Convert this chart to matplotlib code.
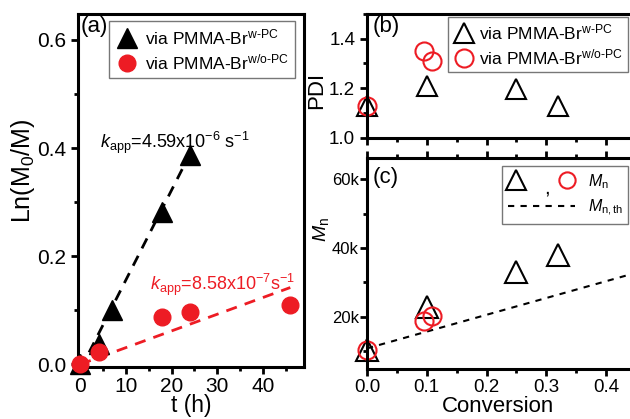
import numpy as np
import matplotlib
matplotlib.use("Agg")
import matplotlib.pyplot as plt
from matplotlib.lines import Line2D
from matplotlib.legend_handler import HandlerTuple
from matplotlib.ticker import MultipleLocator, FuncFormatter

plt.rcParams["font.family"] = ["Liberation Sans", "DejaVu Sans"]
plt.rcParams["mathtext.fontset"] = "custom"
plt.rcParams["mathtext.rm"] = "Liberation Sans"
plt.rcParams["mathtext.it"] = "Liberation Sans:italic"

RED = "#ED1C24"

# ---- (a) kinetics ----
t_w = [0, 4, 7, 18, 24]
lnm_w = [0.0, 0.037, 0.100, 0.281, 0.388]
t_wo = [0, 4, 18, 24, 46]
lnm_wo = [0.0, 0.022, 0.088, 0.096, 0.109]
fit_w_t = [0, 24.5]
fit_w_y = [-0.01, 0.397]
fit_wo_t = [0, 46]
fit_wo_y = [0.0, 0.142]

# ---- (b) PDI ----
conv_w = [0.0, 0.10, 0.25, 0.32]
pdi_w = [1.13, 1.208, 1.198, 1.127]
conv_wo = [0.0, 0.096, 0.108]
pdi_wo = [1.128, 1.349, 1.308]

# ---- (c) Mn ----
mn_w = [10300, 22900, 33100, 38000]
mn_wo = [10300, 18700, 20300]
th_conv = [0.0, 0.44]
th_mn = [10800, 32300]

fig = plt.figure(figsize=(6.3, 4.19), dpi=100)
ax_a = fig.add_axes([0.1238, 0.1241, 0.3587, 0.8425])
ax_b = fig.add_axes([0.5825, 0.6714, 0.4175, 0.2952])
ax_c = fig.add_axes([0.5825, 0.1193, 0.4175, 0.5029])

for ax in (ax_a, ax_b, ax_c):
    for s in ax.spines.values():
        s.set_linewidth(2.2)
    ax.tick_params(which="major", direction="out", length=5, width=2)
    ax.tick_params(which="minor", direction="out", length=3, width=2)

# ============================================================
# PANEL (a)
# ============================================================
ax_a.plot(fit_w_t, fit_w_y, color="black", linestyle=(0, (4, 3)), linewidth=2)
ax_a.plot(fit_wo_t, fit_wo_y, color=RED, linestyle=(0, (4, 3)), linewidth=2)
ax_a.plot(t_w, lnm_w, linestyle="none", marker="^", markersize=14,
          color="black", label="via PMMA-Br$^{\\rm w\\text{-}PC}$", clip_on=False, zorder=3)
ax_a.plot(t_wo, lnm_wo, linestyle="none", marker="o", markersize=12,
          color=RED, label="via PMMA-Br$^{\\rm w/o\\text{-}PC}$", clip_on=False, zorder=4)

ax_a.set_xlim(-0.5, 49)
ax_a.set_ylim(-0.005, 0.648)
ax_a.xaxis.set_major_locator(MultipleLocator(10))
ax_a.xaxis.set_minor_locator(MultipleLocator(5))
ax_a.yaxis.set_major_locator(MultipleLocator(0.2))
ax_a.yaxis.set_minor_locator(MultipleLocator(0.1))
ax_a.tick_params(labelsize=15)
ax_a.tick_params(axis="x", pad=2)
ax_a.set_xlabel("t (h)", fontsize=16.5, labelpad=-1)
ax_a.set_ylabel("Ln(M$_0$/M)", fontsize=18)
ax_a.yaxis.set_label_coords(-0.18, 0.555)

ax_a.text(0.01, 0.995, "(a)", transform=ax_a.transAxes, fontsize=16,
          va="top", ha="left")
ax_a.text(4.4, 0.40, "$k_{\\rm app}$=4.59x10$^{-6}$ s$^{-1}$", fontsize=13,
          color="black")
ax_a.text(15.3, 0.138, "$k_{\\rm app}$=8.58x10$^{-7}$s$^{-1}$", fontsize=13,
          color=RED)
ax_a.legend(loc="upper right", bbox_to_anchor=(0.975, 0.99), fontsize=12.5,
            frameon=True, fancybox=False, edgecolor="#555555",
            handletextpad=0.4, borderpad=0.35, labelspacing=0.3,
            handlelength=1.3, borderaxespad=0.2)

# ============================================================
# PANEL (b)
# ============================================================
ax_b.plot(conv_w, pdi_w, linestyle="none", marker="^", markersize=15,
          markerfacecolor="none", markeredgecolor="black", markeredgewidth=1.5,
          label="via PMMA-Br$^{\\rm w\\text{-}PC}$", clip_on=False)
ax_b.plot(conv_wo, pdi_wo, linestyle="none", marker="o", markersize=13,
          markerfacecolor="none", markeredgecolor=RED, markeredgewidth=1.5,
          label="via PMMA-Br$^{\\rm w/o\\text{-}PC}$", clip_on=False)
ax_b.set_xlim(0, 0.44)
ax_b.set_ylim(1.0, 1.5)
ax_b.xaxis.set_major_locator(MultipleLocator(0.1))
ax_b.xaxis.set_minor_locator(MultipleLocator(0.05))
ax_b.yaxis.set_major_locator(MultipleLocator(0.2))
ax_b.yaxis.set_minor_locator(MultipleLocator(0.1))
ax_b.tick_params(axis="x", labelbottom=False)
ax_b.tick_params(axis="y", labelsize=13.5)
ax_b.spines["right"].set_visible(False)
ax_b.set_ylabel("PDI", fontsize=16)
ax_b.yaxis.set_label_coords(-0.15, 0.385)
ax_b.text(0.02, 0.98, "(b)", transform=ax_b.transAxes, fontsize=16,
          va="top", ha="left")
ax_b.legend(loc="upper right", bbox_to_anchor=(1.0, 0.99), fontsize=12.5,
            frameon=True, fancybox=False, edgecolor="#555555",
            handletextpad=0.3, borderpad=0.3, labelspacing=0.3,
            handlelength=1.2, borderaxespad=0.1)

# ============================================================
# PANEL (c)
# ============================================================
ax_c.plot(th_conv, th_mn, color="black", linestyle=(0, (3, 3)), linewidth=1.5)
h_tri, = ax_c.plot(conv_w, mn_w, linestyle="none", marker="^", markersize=16,
                   markerfacecolor="none", markeredgecolor="black",
                   markeredgewidth=1.5, clip_on=False)
h_circ, = ax_c.plot(conv_wo, mn_wo, linestyle="none", marker="o", markersize=13,
                    markerfacecolor="none", markeredgecolor=RED,
                    markeredgewidth=1.5, clip_on=False)
ax_c.set_xlim(0, 0.44)
ax_c.set_ylim(4800, 66100)
ax_c.xaxis.set_major_locator(MultipleLocator(0.1))
ax_c.xaxis.set_minor_locator(MultipleLocator(0.05))
ax_c.yaxis.set_major_locator(MultipleLocator(20000))
ax_c.yaxis.set_minor_locator(MultipleLocator(10000))
ax_c.yaxis.set_major_formatter(FuncFormatter(lambda v, p: f"{int(v / 1000)}k"))
ax_c.xaxis.set_major_formatter(FuncFormatter(lambda v, p: f"{v:.1f}"))
ax_c.tick_params(axis="x", labelsize=13.5, pad=2, top=True, which="both")
ax_c.tick_params(axis="y", labelsize=12, pad=1)
ax_c.spines["right"].set_visible(False)
ax_c.set_xlabel("Conversion", fontsize=16, labelpad=0)
ax_c.set_ylabel("$M_{\\rm n}$", fontsize=14)
ax_c.yaxis.set_label_coords(-0.135, 0.66)
ax_c.text(0.02, 0.96, "(c)", transform=ax_c.transAxes, fontsize=16,
          va="top", ha="left")

th_handle = Line2D([], [], color="black", linestyle=(0, (3, 3)), linewidth=1.5)
ax_c.legend([(h_tri, h_circ), th_handle], ["$M_{\\rm n}$", "$M_{\\rm n,th}$"],
            handler_map={tuple: HandlerTuple(ndivide=None, pad=2.2)},
            loc="upper right", bbox_to_anchor=(1.0, 0.97), fontsize=11.5,
            frameon=True, fancybox=False, edgecolor="#555555",
            handletextpad=0.8, borderpad=0.35, labelspacing=0.45,
            handlelength=4.2, borderaxespad=0.1, markerscale=0.9)
ax_c.text(0.684, 0.835, ",", transform=ax_c.transAxes, fontsize=15,
          ha="center", va="baseline", zorder=10)

fig.savefig("out.png", dpi=100)
